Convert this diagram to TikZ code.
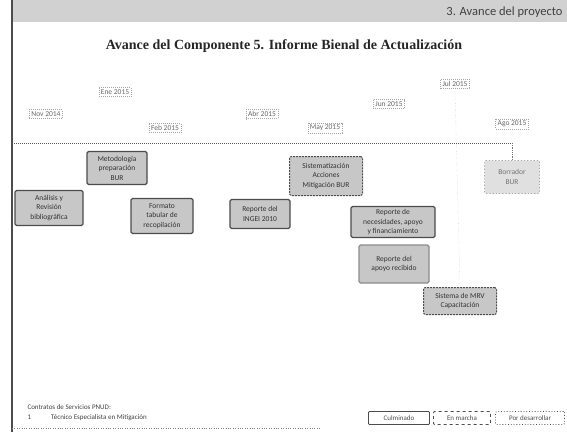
\documentclass[tikz,border=0pt]{standalone}
\usepackage{fontspec}
\setmainfont{Liberation Serif}
\setsansfont{Carlito}
\begin{document}
\begin{tikzpicture}[x=1pt,y=-1pt,
  datebox/.style={draw=black!35,dashed,dash pattern=on 1pt off 1pt,inner sep=2pt,font=\sffamily\fontsize{7.5}{9}\selectfont,text=black!60},
  done/.style={draw=black!70,line width=1.2pt,fill=black!22,rounded corners=1.5pt,align=center,font=\sffamily\fontsize{7.5}{9.5}\selectfont,text=black!80,inner sep=1.5pt},
  going/.style={done,draw=black!70,dashed,dash pattern=on 2pt off 1pt,line width=1pt},
  todo/.style={done,draw=black!35,dotted,line width=0.8pt,fill=black!12,text=black!55},
  legbox/.style={draw=black!70,rounded corners=1pt,line width=0.8pt,font=\sffamily\fontsize{7}{8}\selectfont,text=black!70,minimum height=13pt,inner sep=2pt}]
\useasboundingbox (0,0) rectangle (567,432);
% top band and frame
\fill[black!18] (12,0) rectangle (567,22);
\node[anchor=east,font=\sffamily\fontsize{12.5}{14}\selectfont,text=black!75] (head) at (566,12) {3. Avance del proyecto};
\draw[black!70,line width=1.5pt] (12,0) -- (12,432);
\draw[black!50,dotted] (12,428) -- (320,428);
% title
\node[font=\bfseries\fontsize{14}{16}\selectfont,text=black!85] (title) at (284,46) {Avance del Componente 5. Informe Bienal de Actualización};
% timeline
\coordinate (tl0) at (12,143);
\coordinate (tl1) at (512,143);
\draw[black!65,line width=1pt,densely dotted] (tl0) -- (tl1);
% dates
\node[datebox] (d1) at (46,114) {Nov 2014};
\node[datebox] (d2) at (115,92) {Ene 2015};
\node[datebox] (d3) at (165,128) {Feb 2015};
\node[datebox] (d4) at (262,114) {Abr 2015};
\node[datebox] (d5) at (325,128) {May 2015};
\node[datebox] (d6) at (389,104) {Jun 2015};
\node[datebox] (d7) at (455,84) {Jul 2015};
\node[datebox] (d8) at (512,124) {Ago 2015};
% tasks
\node[done,minimum width=68pt,minimum height=35pt] (t1) at (49,208) {Análisis y\\Revisión\\bibliográfica};
\node[done,minimum width=60pt,minimum height=33pt] (t2) at (117,168) {Metodología\\preparación\\BUR};
\node[done,minimum width=62pt,minimum height=35pt] (t3) at (162,216) {Formato\\tabular de\\recopilación};
\node[done,minimum width=60pt,minimum height=29pt] (t4) at (260,214) {Reporte del\\INGEI 2010};
\node[going,minimum width=73pt,minimum height=39pt] (t5) at (326,176) {Sistematización\\Acciones\\Mitigación BUR};
\node[done,minimum width=84pt,minimum height=31pt] (t6) at (393,222) {Reporte de\\necesidades, apoyo\\y financiamiento};
\node[done,draw=black!45,minimum width=70pt,minimum height=38pt] (t7) at (394,264) {Reporte del\\apoyo recibido};
\node[going,minimum width=73pt,minimum height=27pt] (t8) at (460,301) {Sistema de MRV\\Capacitación};
\node[todo,minimum width=55pt,minimum height=33pt] (t9) at (512,177) {Borrador\\BUR};
% connectors
\draw[black!55,densely dotted,line width=0.8pt] (tl1) -- (t9.north);
\draw[black!30,dotted] (d7.south) -- (t8.north);
% bottom text
\node[anchor=west,font=\sffamily\fontsize{7}{8}\selectfont,text=black!75] (c1) at (24,407) {Contratos de Servicios PNUD:};
\node[anchor=west,font=\sffamily\fontsize{7}{8}\selectfont,text=black!75] (c2) at (24,418) {1\hspace{20pt}Técnico Especialista en Mitigación};
% legend
\node[legbox,minimum width=61pt] (l1) at (399,418) {Culminado};
\node[legbox,dashed,minimum width=57pt] (l2) at (462,418) {En marcha};
\node[legbox,dotted,minimum width=69pt] (l3) at (530,418) {Por desarrollar};
\end{tikzpicture}
\end{document}
